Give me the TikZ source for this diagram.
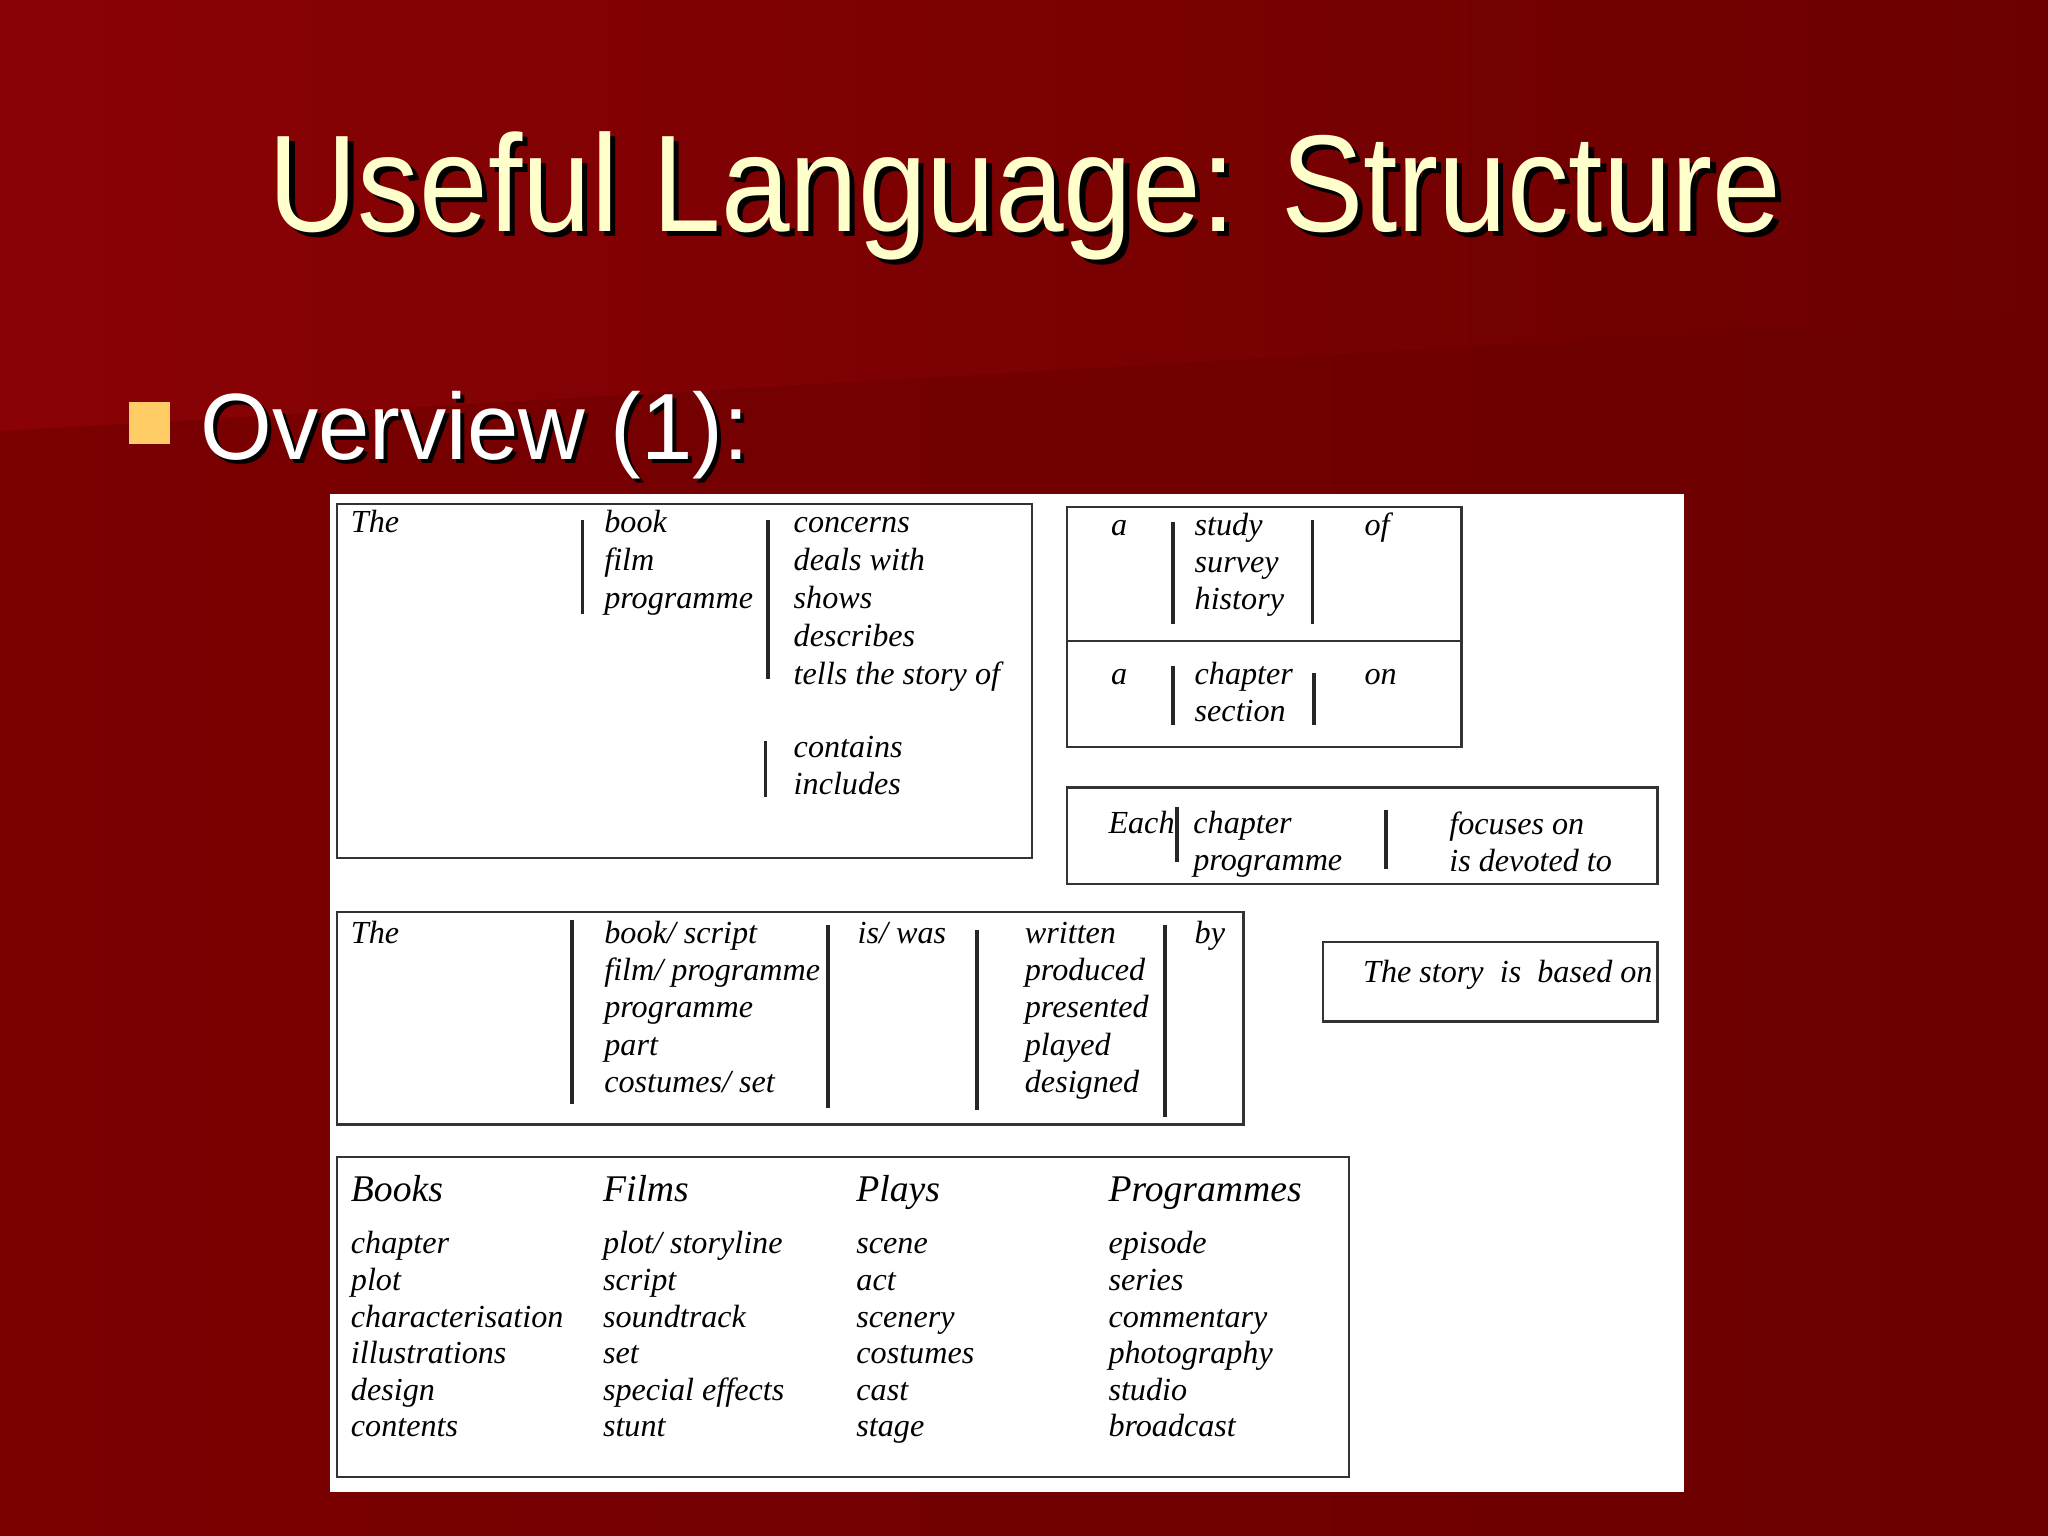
\documentclass[tikz,border=0pt]{standalone}
\usepackage{fontspec}
\setmainfont{Liberation Serif}
\newfontfamily\sans{Liberation Sans}
\newcommand\wcol[4]{\foreach \w [count=\i from 0] in {#4} \node[t] at (#1,#2+#3*\i) {\w};}
\begin{document}
\begin{tikzpicture}[x=0.01cm,y=-0.01cm,
  t/.style={font=\itshape\fontsize{7}{8.25}\selectfont,inner sep=0,anchor=base west},
  h/.style={font=\itshape\fontsize{8.2}{9}\selectfont,inner sep=0,anchor=base west},
  bx/.style={draw=black!80,line width=0.5pt},
  bar/.style={draw=black!85,line width=0.8pt}]
\definecolor{bgA}{HTML}{8A0205}
\definecolor{bgB}{HTML}{6C0000}
\definecolor{ttl}{HTML}{FFFFCC}
\definecolor{bul}{HTML}{FFCC66}
\useasboundingbox (0,0) rectangle (1568,1176);
\shade[left color=bgA,right color=bgB] (0,0) rectangle (1568,1176);
\fill[bgB,opacity=0.5] (0,330) -- (1568,240) -- (1568,1176) -- (0,1176) -- cycle;
% title
\node[font=\sans\fontsize{30}{30}\selectfont,text=black,xscale=0.895] at (789,154) {Useful Language: Structure};
\node (title)[font=\sans\fontsize{30}{30}\selectfont,text=ttl,xscale=0.895] at (785,150) {Useful Language: Structure};
\fill[bul] (99,308) rectangle (130,340);
\node[font=\sans\fontsize{20.5}{20.5}\selectfont,text=black,anchor=base west,inner sep=0,xscale=0.98] at (156,355) {Overview (1):};
\node (ov)[font=\sans\fontsize{20.5}{20.5}\selectfont,text=white,anchor=base west,inner sep=0,xscale=0.98] at (153,352) {Overview (1):};
% panel
\fill[white] (253,378) rectangle (1289,1142);
% box1
\draw[bx] (258,386) rectangle (790,657);
\wcol{268}{408}{29}{The}
\draw[bar] (446,398) -- (446,470);
\wcol{462}{408}{29}{book,film,programme}
\draw[bar] (588,398) -- (588,520);
\wcol{607}{408}{29}{concerns,deals with,shows,describes,tells the story of}
\draw[bar] (586,567) -- (586,610);
\wcol{607}{580}{28.5}{contains,includes}
% box2,3
\draw[bx] (817,388) rectangle (1119,491);
\draw[bx] (817,491) rectangle (1119,572);
\wcol{850}{410}{28.5}{a}
\draw[bar] (898,400) -- (898,478);
\wcol{914}{410}{28.5}{study,survey,history}
\draw[bar] (1005,398) -- (1005,478);
\wcol{1044}{410}{28.5}{of}
\wcol{850}{524}{28.5}{a}
\draw[bar] (898,510) -- (898,555);
\wcol{914}{524}{28.5}{chapter,section}
\draw[bar] (1006,515) -- (1006,555);
\wcol{1044}{524}{28.5}{on}
% box4
\draw[bx] (817,603) rectangle (1269,677);
\wcol{848}{638}{28.5}{Each}
\draw[bar] (901,618) -- (901,660);
\wcol{913}{638}{28.5}{chapter,programme}
\draw[bar] (1061,620) -- (1061,665);
\wcol{1109}{639}{28.5}{focuses on,is devoted to}
% box5
\draw[bx] (258,698) rectangle (952,861);
\wcol{268}{722}{28.7}{The}
\draw[bar] (438,704) -- (438,845);
\wcol{462}{722}{28.7}{book/ script,film/ programme,programme,part,costumes/ set}
\draw[bar] (634,708) -- (634,848);
\wcol{656}{722}{28.7}{is/ was}
\draw[bar] (748,712) -- (748,850);
\wcol{784}{722}{28.7}{written,produced,presented,played,designed}
\draw[bar] (892,708) -- (892,855);
\wcol{914}{722}{28.7}{by}
% box6
\draw[bx] (1013,721) rectangle (1269,782);
\node[t] at (1043,752) {The story\enspace is\enspace based on};
% box7
\draw[bx] (258,886) rectangle (1033,1131);
\node[h] at (268,920) {Books};
\node[h] at (461,920) {Films};
\node[h] at (655,920) {Plays};
\node[h] at (848,920) {Programmes};
\wcol{268}{960}{28}{chapter,plot,characterisation,illustrations,design,contents}
\wcol{461}{960}{28}{plot/ storyline,script,soundtrack,set,special effects,stunt}
\wcol{655}{960}{28}{scene,act,scenery,costumes,cast,stage}
\wcol{848}{960}{28}{episode,series,commentary,photography,studio,broadcast}
\end{tikzpicture}
\end{document}
